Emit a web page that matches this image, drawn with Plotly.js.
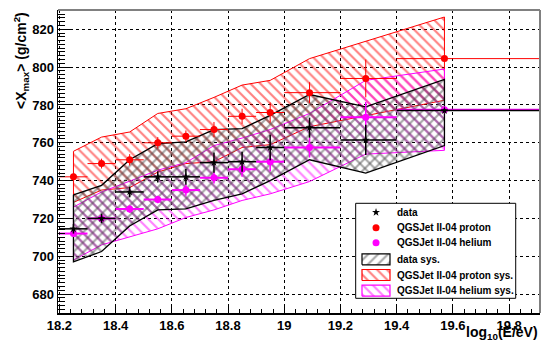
<!DOCTYPE html>
<html>
<head>
<meta charset="utf-8">
<script src="https://cdn.plot.ly/plotly-3.0.1.min.js"></script>
<style>html,body{margin:0;padding:0;background:#fff;}#chart{width:541px;height:342px;}</style>
</head>
<body>
<div id="chart"></div>
<script>
// energy bins (log10(E/eV)) and horizontal extents
const logE      = [18.25, 18.35, 18.45, 18.55, 18.65, 18.75, 18.85, 18.95, 19.09, 19.29, 19.57];
const binLow    = [0.05, 0.05, 0.05, 0.05, 0.05, 0.05, 0.05, 0.05, 0.09, 0.09, 0.17];
const binHigh   = [0.05, 0.05, 0.05, 0.05, 0.05, 0.05, 0.05, 0.05, 0.11, 0.11, 0.43];

// data <Xmax>
const dataXmax  = [714.5, 720, 734, 742, 742, 749.5, 750, 757.5, 768, 761.5, 777];
const dataStat  = [2.5, 2.5, 2.8, 3, 4.2, 5.3, 5.3, 6.8, 5.3, 8, 1];
const dataSysHi = [732.5, 737.5, 751, 759.5, 760.5, 767, 767.5, 774.5, 785.5, 779, 793.5];
const dataSysLo = [697, 702.5, 716, 724.5, 725, 729.5, 733, 740, 751, 744, 758.5];

// QGSJet II-04 proton
const protonXmax  = [742, 749, 751, 760, 763.5, 767, 774, 776, 786.5, 794, 804.5];
const protonStat  = [1, 2.6, 3, 3, 3, 4, 4, 5.3, 5.5, 10, 0];
const protonSysHi = [755.5, 763, 765.7, 775.5, 778, 784, 790.5, 793, 804.5, 813.5, 826.5];
const protonSysLo = [728.5, 735, 736.3, 744.5, 749, 750, 757.5, 759, 768.5, 774.5, 782.5];

// QGSJet II-04 helium
const heliumXmax  = [712, 720, 725, 730, 735, 741.5, 746, 750, 757.5, 773.5, 777.5];
const heliumStat  = [1, 1.5, 2, 2, 3, 3, 4, 5, 5.3, 8, 0];
const heliumSysHi = [726, 734, 739.7, 745.5, 749.5, 758.5, 762.5, 767, 775.5, 793, 799];
const heliumSysLo = [698, 706, 710.3, 714.5, 720.5, 724.5, 729.5, 733, 739.5, 754, 756];

const xTickVals = [18.2, 18.4, 18.6, 18.8, 19, 19.2, 19.4, 19.6, 19.8];
const xTickText = ['18.2', '18.4', '18.6', '18.8', '19', '19.2', '19.4', '19.6', '19.8'];
const yTickVals = [680, 700, 720, 740, 760, 780, 800, 820];

const legendLabels = ['data', 'QGSJet II-04 proton', 'QGSJet II-04 helium',
                      'data sys.', 'QGSJet II-04 proton sys.', 'QGSJet II-04 helium sys.'];

function band(hi, lo) {
  return {
    x: logE.concat(logE.slice().reverse(), [logE[0]]),
    y: hi.concat(lo.slice().reverse(), [hi[0]])
  };
}

const FONT = 'Liberation Sans, Arial, Helvetica, sans-serif';
const RED = '#ff0000', MAG = '#ff00ff', HATCH = '#505050';
function pat(shape, color) {
  return {shape: shape, fgcolor: color, bgcolor: 'rgba(0,0,0,0)', fillmode: 'overlay', size: 7, solidity: 0.3};
}

const dBand = band(dataSysHi, dataSysLo);
const pBand = band(protonSysHi, protonSysLo);
const hBand = band(heliumSysHi, heliumSysLo);

const traces = [
  {x: pBand.x, y: pBand.y, type: 'scatter', mode: 'lines', fill: 'toself', fillcolor: 'rgba(0,0,0,0)',
   line: {color: RED, width: 1}, fillpattern: pat('\\', RED), name: legendLabels[4], showlegend: false},
  {x: hBand.x, y: hBand.y, type: 'scatter', mode: 'lines', fill: 'toself', fillcolor: 'rgba(0,0,0,0)',
   line: {color: MAG, width: 1}, fillpattern: pat('\\', MAG), name: legendLabels[5], showlegend: false},
  {x: dBand.x, y: dBand.y, type: 'scatter', mode: 'lines', fill: 'toself', fillcolor: 'rgba(0,0,0,0)',
   line: {color: 'rgba(0,0,0,0)', width: 0}, fillpattern: pat('\\', HATCH), showlegend: false},
  {x: dBand.x, y: dBand.y, type: 'scatter', mode: 'lines', fill: 'toself', fillcolor: 'rgba(0,0,0,0)',
   line: {color: '#000', width: 1.3}, fillpattern: pat('/', HATCH), name: legendLabels[3], showlegend: false},
  {x: logE, y: protonXmax, type: 'scatter', mode: 'markers', name: legendLabels[1], showlegend: false,
   marker: {symbol: 'circle', size: 7, color: RED},
   error_y: {type: 'data', array: protonStat, color: RED, thickness: 1, width: 0},
   error_x: {type: 'data', symmetric: false, array: binHigh, arrayminus: binLow, color: RED, thickness: 1, width: 0}},
  {x: logE, y: heliumXmax, type: 'scatter', mode: 'markers', name: legendLabels[2], showlegend: false,
   marker: {symbol: 'circle', size: 7, color: MAG},
   error_y: {type: 'data', array: heliumStat, color: MAG, thickness: 1.5, width: 0},
   error_x: {type: 'data', symmetric: false, array: binHigh, arrayminus: binLow, color: MAG, thickness: 2, width: 0}},
  {x: logE, y: dataXmax, type: 'scatter', mode: 'markers', name: legendLabels[0], showlegend: false,
   marker: {symbol: 'star', size: 6, color: '#000'},
   error_y: {type: 'data', array: dataStat, color: '#000', thickness: 1.5, width: 0},
   error_x: {type: 'data', symmetric: false, array: binHigh, arrayminus: binLow, color: '#000', thickness: 1.5, width: 0}}
];

// ---- legend drawn on an overlay axis spanning the plot area (0..1 both ways) ----
const LG = {x0: 0.6176, x1: 0.9496, y0: 0.0485, y1: 0.362};
const rowY = [0.3323, 0.2815, 0.2320, 0.1772, 0.1254, 0.0736];
const symX = 0.6598, boxX0 = 0.6307, boxX1 = 0.6888, boxH = 0.0363, textX = 0.6992;

function legBox(i, color, shape, lineColor) {
  const y0 = rowY[i] - boxH / 2, y1 = rowY[i] + boxH / 2;
  return {x: [boxX0, boxX1, boxX1, boxX0, boxX0], y: [y0, y0, y1, y1, y0], xaxis: 'x2', yaxis: 'y2',
          type: 'scatter', mode: 'lines', fill: 'toself', fillcolor: 'rgba(0,0,0,0)',
          line: {color: lineColor, width: 1.2}, fillpattern: pat(shape, color), showlegend: false, hoverinfo: 'skip'};
}
traces.push(
  {x: [LG.x0, LG.x1, LG.x1, LG.x0, LG.x0], y: [LG.y0, LG.y0, LG.y1, LG.y1, LG.y0], xaxis: 'x2', yaxis: 'y2',
   type: 'scatter', mode: 'lines', fill: 'toself', fillcolor: '#ffffff', line: {color: '#000', width: 1},
   showlegend: false, hoverinfo: 'skip'},
  {x: [symX], y: [rowY[0]], xaxis: 'x2', yaxis: 'y2', type: 'scatter', mode: 'markers',
   marker: {symbol: 'star', size: 6, color: '#000'}, showlegend: false},
  {x: [symX], y: [rowY[1]], xaxis: 'x2', yaxis: 'y2', type: 'scatter', mode: 'markers',
   marker: {symbol: 'circle', size: 7, color: RED}, showlegend: false},
  {x: [symX], y: [rowY[2]], xaxis: 'x2', yaxis: 'y2', type: 'scatter', mode: 'markers',
   marker: {symbol: 'circle', size: 7, color: MAG}, showlegend: false},
  legBox(3, HATCH, '/', '#000'),
  legBox(4, RED, '\\', RED),
  legBox(5, MAG, '\\', MAG)
);

const annotations = legendLabels.map((t, i) => ({
  text: t, xref: 'paper', yref: 'paper', x: textX, y: rowY[i], xanchor: 'left', yanchor: 'middle',
  showarrow: false, font: {family: FONT, size: 10, weight: 'bold', color: '#000'}
}));
annotations.push(
  {text: '&lt;X<sub>max</sub>&gt; (g/cm<sup>2</sup>)', xref: 'paper', yref: 'paper',
   x: -0.078, y: 1, xanchor: 'center', yanchor: 'top', textangle: -90, showarrow: false,
   font: {family: FONT, size: 14, weight: 'bold', color: '#000'}},
  {text: 'log<sub>10</sub>(E/eV)', xref: 'paper', yref: 'paper',
   x: 1, y: -0.067, xanchor: 'right', yanchor: 'middle', showarrow: false,
   font: {family: FONT, size: 14, weight: 'bold', color: '#000'}}
);

const layout = {
  width: 541, height: 342,
  margin: {l: 58, r: 1, t: 10, b: 29, pad: 0},
  paper_bgcolor: '#ffffff', plot_bgcolor: '#ffffff',
  font: {family: FONT, size: 13, color: '#000', weight: 'bold'},
  showlegend: false,
  xaxis: {
    range: [18.195, 19.91], showgrid: true, gridcolor: '#000', griddash: 'dot', gridwidth: 1,
    zeroline: false, showline: true, linecolor: '#000', linewidth: 1.5,
    ticks: 'inside', ticklen: 9, tickcolor: '#000', tickwidth: 1,
    tickvals: xTickVals, ticktext: xTickText,
    tickfont: {family: FONT, size: 13, weight: 'bold'},
    minor: {ticks: 'inside', ticklen: 4, dtick: 0.04, tick0: 18.2, tickcolor: '#000', showgrid: false}
  },
  yaxis: {
    range: [670, 830.2], showgrid: true, gridcolor: '#000', griddash: 'dot', gridwidth: 1,
    zeroline: false, showline: true, linecolor: '#000', linewidth: 1.5,
    ticks: 'inside', ticklen: 14, tickcolor: '#000', tickwidth: 1,
    tickvals: yTickVals,
    tickfont: {family: FONT, size: 13, weight: 'bold'},
    minor: {ticks: 'inside', ticklen: 7, dtick: 2, tick0: 670, tickcolor: '#000', showgrid: false}
  },
  xaxis2: {overlaying: 'x', range: [0, 1], visible: false, showgrid: false, zeroline: false},
  yaxis2: {overlaying: 'y', range: [0, 1], visible: false, showgrid: false, zeroline: false},
  shapes: [
    {type: 'line', xref: 'paper', yref: 'paper', x0: 0, x1: 1, y0: 1, y1: 1, line: {color: '#808080', width: 2}},
    {type: 'line', xref: 'paper', yref: 'paper', x0: 1, x1: 1, y0: 0, y1: 1, line: {color: '#808080', width: 2}}
  ],
  annotations: annotations
};

Plotly.newPlot('chart', traces, layout, {staticPlot: true, displayModeBar: false});
</script>
</body>
</html>
